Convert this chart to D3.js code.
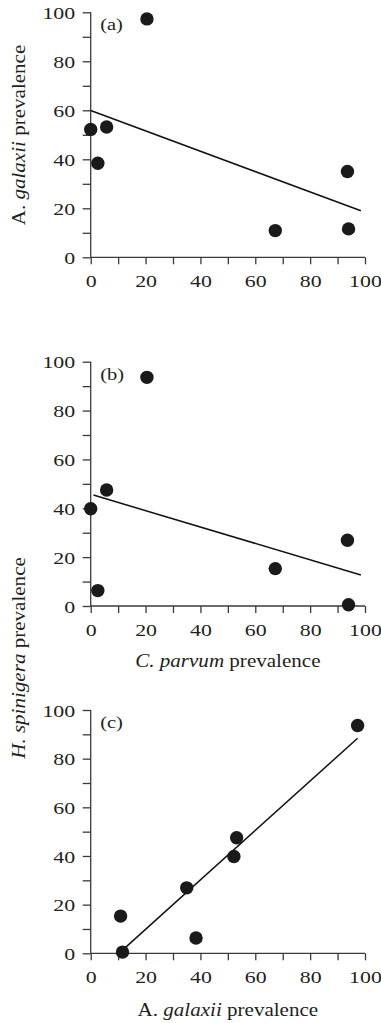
<!DOCTYPE html>
<html>
<head>
<meta charset="utf-8">
<script src="https://cdn.jsdelivr.net/npm/d3@7"></script>
<style>
  body { margin: 0; background: white; }
  svg { display: block; }
  text { font-family: "Liberation Serif", "Times New Roman", serif; fill: #231f20; }
</style>
</head>
<body>
<svg id="chart" width="381" height="1023"></svg>
<script>
// prevalence (%) at each of the seven sites
const cParvum    = [0, 2.6, 5.8, 20.5, 67.3, 93.6, 94.0];
const aGalaxii   = [52.2, 38.4, 53.2, 97.3, 10.9, 35.0, 11.6];
const hSpinigera = [39.8, 6.3, 47.5, 93.6, 15.3, 26.9, 0.5];

// fitted regression lines, endpoints
const fitA = [[0, 59.9], [98.5, 19.0]];
const fitB = [[1.0, 45.4], [98.5, 12.7]];
const fitC = [[11.7, 1.4], [97.3, 88.4]];

const majorTicks = [0, 20, 40, 60, 80, 100];
const minorTicks = [10, 30, 50, 70, 90];
const panelLabels = ['(a)', '(b)', '(c)'];

const COLORS = {
    axis: '#3a3a3a',
    dot: '#1a1a1a',
    line: '#111111'
}

// the figure's typeface is wider than Liberation Serif, so text is stretched sideways
const TICK_FONT = 17.5, TICK_STRETCH = 1.25;
const TITLE_FONT = 18, TITLE_STRETCH = 1.17;

const svg = d3.select('#chart');
const x = d3.scaleLinear().domain([0, 100]).range([90.7, 365]);

const panels = [
    { xs: cParvum,  ys: aGalaxii,   fit: fitA, top: 12.3,  bottom: 257.3 },
    { xs: cParvum,  ys: hSpinigera, fit: fitB, top: 361.7, bottom: 606 },
    { xs: aGalaxii, ys: hSpinigera, fit: fitC, top: 710,   bottom: 953.3 }
];

panels.forEach(function (p, i) {
    var y = d3.scaleLinear().domain([0, 100]).range([p.bottom, p.top]);
    var g = svg.append('g');
    var allTicks = majorTicks.concat(minorTicks).sort(d3.ascending);
    var fmt = d => majorTicks.includes(d) ? d : '';

    var xAxis = g.append('g')
        .attr('transform', 'translate(0,' + p.bottom + ')')
        .call(d3.axisBottom(x).tickValues(allTicks).tickSize(7).tickFormat(fmt));

    var yAxis = g.append('g')
        .attr('transform', 'translate(' + x(0) + ',0)')
        .call(d3.axisLeft(y).tickValues(allTicks).tickSize(8).tickFormat(fmt));

    [xAxis, yAxis].forEach(function (ax) {
        ax.select('.domain').attr('stroke', COLORS.axis).attr('stroke-width', 1.3);
        ax.selectAll('.tick line').attr('stroke', COLORS.axis).attr('stroke-width', 1.3);
        ax.selectAll('.tick text')
            .attr('font-size', TICK_FONT)
            .attr('fill', '#231f20');
    });
    xAxis.select('.domain').attr('d', 'M' + x(0) + ',0H' + x(100));
    yAxis.select('.domain').attr('d', 'M0,' + y(0) + 'V' + y(100));

    xAxis.selectAll('.tick text')
        .attr('y', 30).attr('dy', 0)
        .attr('transform', 'scale(' + TICK_STRETCH + ',1)');
    yAxis.selectAll('.tick text')
        .attr('x', -15.5 / TICK_STRETCH).attr('dy', '0.35em')
        .attr('transform', 'scale(' + TICK_STRETCH + ',1)');

    g.append('line')
        .attr('x1', x(p.fit[0][0])).attr('y1', y(p.fit[0][1]))
        .attr('x2', x(p.fit[1][0])).attr('y2', y(p.fit[1][1]))
        .attr('stroke', COLORS.line)
        .attr('stroke-width', 1.5);

    g.selectAll('circle')
        .data(d3.range(p.xs.length))
        .enter()
        .append('circle')
        .attr('cx', k => x(p.xs[k]))
        .attr('cy', k => y(p.ys[k]))
        .attr('r', 6.7)
        .attr('fill', COLORS.dot);

    g.append('text')
        .attr('transform', 'translate(' + (x(0) + 9.5) + ',' + (p.top + 18) + ') scale(' + TITLE_STRETCH + ',1)')
        .attr('font-size', TICK_FONT)
        .text(panelLabels[i]);
});

function italicLabel (sel, italicPart, rest) {
    sel.append('tspan').attr('font-style', 'italic').text(italicPart);
    sel.append('tspan').text(rest);
}

function title (transform) {
    return svg.append('text')
        .attr('transform', transform + ' scale(' + TITLE_STRETCH + ',1)')
        .attr('text-anchor', 'middle')
        .attr('font-size', TITLE_FONT);
}

var midX = (x(0) + x(100)) / 2;

// axis titles
title('translate(25,135) rotate(-90)')
    .call(s => { s.append('tspan').text('A. '); italicLabel(s, 'galaxii', ' prevalence'); });

title('translate(25,658) rotate(-90)')
    .call(s => italicLabel(s, 'H. spinigera', ' prevalence'));

title('translate(' + midX + ',667)')
    .call(s => italicLabel(s, 'C. parvum', ' prevalence'));

title('translate(' + midX + ',1016)')
    .call(s => { s.append('tspan').text('A. '); italicLabel(s, 'galaxii', ' prevalence'); });
</script>
</body>
</html>
